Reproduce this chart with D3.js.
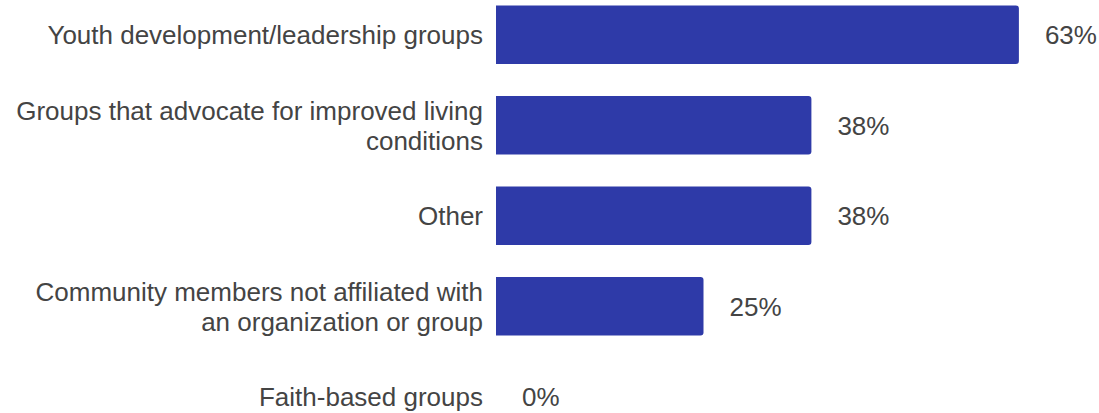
<!DOCTYPE html>
<html>
<head>
<meta charset="utf-8">
<script src="https://cdn.jsdelivr.net/npm/d3@7"></script>
<style>
  html, body { margin: 0; padding: 0; background: #fff; }
  svg { display: block; }
  text { font-family: "Liberation Sans", Arial, sans-serif; fill: #444; }
</style>
</head>
<body>
<svg id="chart" width="1099" height="413"></svg>
<script>
// Share of respondents by type of partner group
const categories = [
  ["Youth development/leadership groups"],
  ["Groups that advocate for improved living", "conditions"],
  ["Other"],
  ["Community members not affiliated with", "an organization or group"],
  ["Faith-based groups"]
];
const values = [63, 38, 38, 25, 0];

const barLeft = 496;
const labelRight = 483;
const fontSize = 26;
const lineHeight = 30;
const barColor = "#2E3AA8";

const svg = d3.select("#chart");

const keys = categories.map(c => c.join(" "));

const y = d3.scaleBand()
  .domain(keys)
  .range([5.5, 426])
  .paddingInner(0.354)
  .paddingOuter(0);

const x = d3.scaleLinear()
  .domain([0, 100])
  .range([barLeft, barLeft + 830]);

const rows = svg.selectAll("g.row")
  .data(keys.map((k, i) => ({ key: k, lines: categories[i], value: values[i] })))
  .join("g")
  .attr("class", "row");

// bars: square on the left, slightly rounded on the right
const r = 3;
rows.filter(d => d.value > 0)
  .append("path")
  .attr("fill", barColor)
  .attr("d", d => {
    const x0 = x(0), x1 = x(d.value);
    const y0 = y(d.key), y1 = y0 + y.bandwidth();
    return `M${x0},${y0}H${x1 - r}Q${x1},${y0} ${x1},${y0 + r}V${y1 - r}Q${x1},${y1} ${x1 - r},${y1}H${x0}Z`;
  });

// value labels
rows.append("text")
  .attr("x", d => x(d.value) + 26)
  .attr("y", d => y(d.key) + y.bandwidth() / 2)
  .attr("dy", "0.37em")
  .attr("font-size", fontSize)
  .text(d => d.value + "%");

// category labels, right-aligned, vertically centred on the bar
rows.append("text")
  .attr("text-anchor", "end")
  .attr("font-size", fontSize)
  .each(function(d) {
    const t = d3.select(this);
    const cy = y(d.key) + y.bandwidth() / 2;
    const n = d.lines.length;
    d.lines.forEach((line, j) => {
      t.append("tspan")
        .attr("x", labelRight)
        .attr("y", cy + (j - (n - 1) / 2) * lineHeight)
        .attr("dy", "0.36em")
        .text(line);
    });
  });
</script>
</body>
</html>
